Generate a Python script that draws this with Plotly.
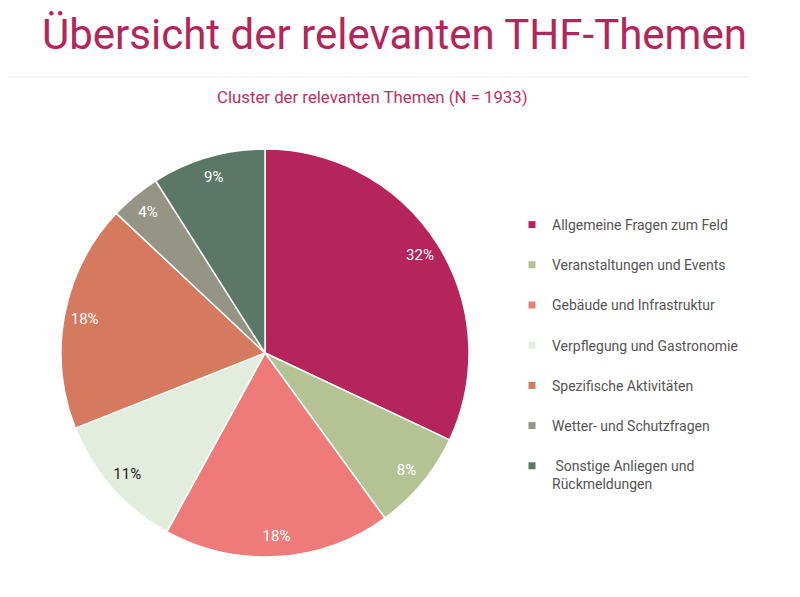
import plotly.graph_objects as go

title_text = "Übersicht der relevanten THF-Themen"
subtitle_text = "Cluster der relevanten Themen (N = 1933)"
categories = [
    "Allgemeine Fragen zum Feld",
    "Veranstaltungen und Events",
    "Gebäude und Infrastruktur",
    "Verpflegung und Gastronomie",
    "Spezifische Aktivitäten",
    "Wetter- und Schutzfragen",
    " Sonstige Anliegen und<br>Rückmeldungen",
]
values = [32, 8, 18, 11, 18, 4, 9]
colors = ["#B5245A", "#B5C294", "#EE7B79", "#E3EDDD", "#D67A5F", "#959585", "#5B7767"]
text_colors = ["#FFFFFF", "#FFFFFF", "#FFFFFF", "#222222", "#FFFFFF", "#FFFFFF", "#FFFFFF"]

W, H = 800, 597
OFF = 8  # page body margin
cx, cy, R = 265 - OFF, 353 - OFF, 204
dom = dict(x=[(cx - R) / W, (cx + R) / W], y=[1 - (cy + R) / H, 1 - (cy - R) / H])

fig = go.Figure()
fig.add_trace(go.Pie(
    labels=categories, values=values, sort=False, direction="clockwise", rotation=0,
    marker=dict(colors=colors, line=dict(color="#FFFFFF", width=1.5)),
    textinfo="none", domain=dom, showlegend=False, hoverinfo="label+percent",
))
# transparent ring carrying the percentage labels near the outer edge
fig.add_trace(go.Pie(
    labels=categories, values=values, sort=False, direction="clockwise", rotation=0,
    hole=0.8,
    marker=dict(colors=["rgba(0,0,0,0)"] * len(values), line=dict(width=0)),
    textinfo="percent", textposition="inside", insidetextorientation="horizontal",
    textfont=dict(family="Roboto", size=15, color=text_colors),
    domain=dom, showlegend=False, hoverinfo="skip",
))

for i, (lab, col) in enumerate(zip(categories, colors)):
    fig.add_trace(go.Scatter(
        x=[None], y=[None], mode="markers", name=lab,
        marker=dict(symbol="square", size=7, color=col),
        legendgroup=f"g{i}", showlegend=True,
    ))

fig.update_layout(
    width=W, height=H,
    margin=dict(l=0, r=0, t=0, b=0),
    paper_bgcolor="white", plot_bgcolor="white",
    xaxis=dict(visible=False), yaxis=dict(visible=False),
    legend=dict(
        x=(512 - OFF) / W, y=1 - (209 - OFF) / H, xanchor="left", yanchor="top",
        font=dict(family="Roboto", size=14, color="#555555"),
        tracegroupgap=19, valign="top",
        itemwidth=30, bgcolor="rgba(0,0,0,0)",
    ),
    annotations=[
        dict(text=title_text, x=(394 - OFF) / W, y=1 - (34 - OFF) / H, xref="paper", yref="paper",
             xanchor="center", yanchor="middle", showarrow=False,
             font=dict(family="Roboto", size=42, color="#B5245A")),
        dict(text=subtitle_text, x=(372 - OFF) / W, y=1 - (97 - OFF) / H, xref="paper", yref="paper",
             xanchor="center", yanchor="middle", showarrow=False,
             font=dict(family="Roboto", size=16.8, color="#C0305F")),
    ],
    shapes=[
        dict(type="line", xref="paper", yref="paper", x0=0, x1=(748 - OFF) / W,
             y0=1 - (77 - OFF) / H, y1=1 - (77 - OFF) / H, line=dict(color="#EEEEEE", width=1)),
    ],
)

fig.write_html("out.html")
